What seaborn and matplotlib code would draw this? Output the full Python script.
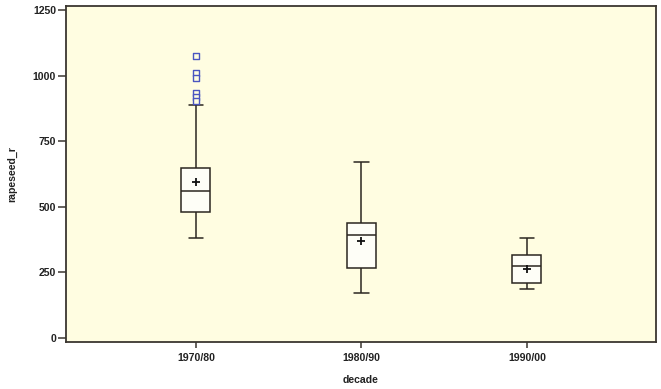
import numpy as np
import pandas as pd
import seaborn as sns
import matplotlib
matplotlib.use("Agg")
import matplotlib.pyplot as plt
from matplotlib import font_manager as fm

# ---- data ----
decades = ["1970/80", "1980/90", "1990/00"]
# five-number summaries: whisker low, Q1, median, Q3, whisker high
whisker_low = [381, 172, 186]
q1 = [479, 265, 210]
median = [559, 391, 273]
q3 = [648, 436, 314]
whisker_high = [887, 670, 381]
means = [593, 370, 262]
outlier_decade = ["1970/80"] * 6
outlier_values = [1075, 1008, 992, 932, 917, 904]
y_ticks = [0, 250, 500, 750, 1000, 1250]

rows = []
for i, d in enumerate(decades):
    for v in (whisker_low[i], q1[i], median[i], q3[i], whisker_high[i]):
        rows.append({"decade": d, "rapeseed_r": v})
df = pd.DataFrame(rows)
df_mean = pd.DataFrame({"decade": decades, "rapeseed_r": means})
df_out = pd.DataFrame({"decade": outlier_decade, "rapeseed_r": outlier_values})

sns.set_style("ticks")
plt.rcParams["font.family"] = ["Liberation Sans", "DejaVu Sans"]

# pick the regular-width Liberation Sans Bold file explicitly
bold_path = None
for f in fm.fontManager.ttflist:
    if f.name == "Liberation Sans" and "Narrow" not in f.fname and f.weight in (700, "bold") \
            and f.style == "normal":
        bold_path = f.fname
        break
if bold_path:
    fp = fm.FontProperties(fname=bold_path, size=7.6)
else:
    fp = fm.FontProperties(family="DejaVu Sans", weight="bold", size=7)

bg = "#FFFDE1"
line_c = "#2b2620"

fig = plt.figure(figsize=(6.61, 3.89), dpi=100)
ax = fig.add_axes([0.0998, 0.1215, 0.8926, 0.8630])
ax.set_facecolor(bg)

sns.boxplot(data=df, x="decade", y="rapeseed_r", order=decades, whis=np.inf,
            width=0.175, color="#FFFFF6", linecolor=line_c, linewidth=1.1,
            showfliers=False, ax=ax)
sns.stripplot(data=df_out, x="decade", y="rapeseed_r", order=decades, jitter=False,
              marker="s", size=4.2, color=bg, edgecolor="#4a55c0", linewidth=1.0,
              ax=ax, zorder=5)
sns.stripplot(data=df_mean, x="decade", y="rapeseed_r", order=decades, jitter=False,
              marker="+", size=6, color="#111111", linewidth=1.3, ax=ax, zorder=6)

ax.set_xlim(-0.785, 2.78)
ax.set_ylim(-15, 1265)
ax.set_yticks(y_ticks)
ax.set_yticklabels([str(t) for t in y_ticks])

for s in ax.spines.values():
    s.set_visible(True)
    s.set_color("#3a3630")
    s.set_linewidth(1.3)

ax.tick_params(axis="y", length=5.5, width=1.1, color="#3a3630", pad=1.5, labelcolor="#222222")
ax.tick_params(axis="x", length=4, width=1.1, color="#3a3630", pad=4, labelcolor="#222222")
for lab in ax.get_xticklabels() + ax.get_yticklabels():
    lab.set_fontproperties(fp)
ax.set_xlabel("decade", fontproperties=fp, color="#222222", labelpad=9)
ax.set_ylabel("rapeseed_r", fontproperties=fp, color="#222222", labelpad=11)

fig.savefig("out.png", dpi=100, facecolor="white")
